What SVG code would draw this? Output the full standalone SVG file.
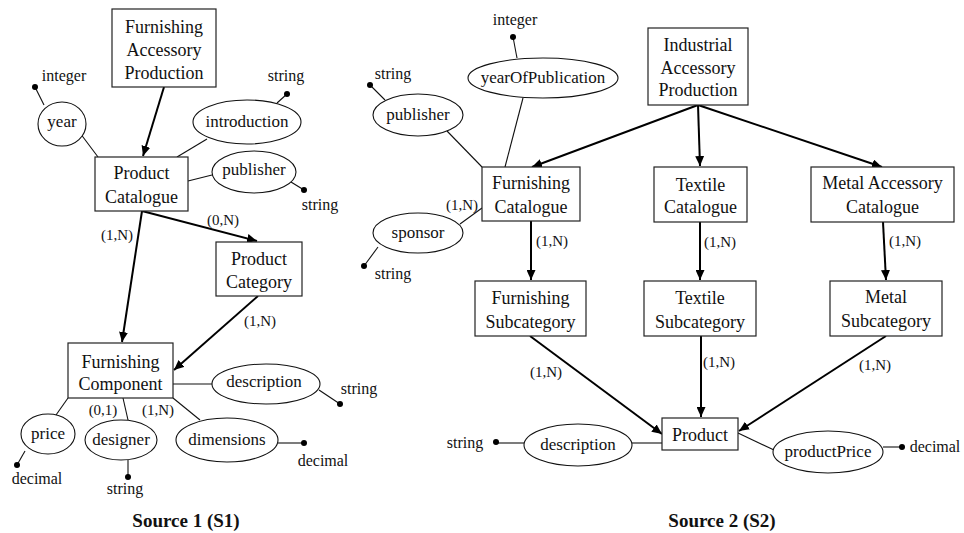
<svg xmlns="http://www.w3.org/2000/svg" width="964" height="533" viewBox="0 0 964 533">
<style>
text{font-family:"Liberation Serif","Times New Roman",serif;fill:#111}
.ent{font-size:18px;text-anchor:middle}
.att{font-size:17px;text-anchor:middle}
.lbl{font-size:16px;text-anchor:middle}
.card{font-size:15px;text-anchor:middle}
.src{font-size:19px;font-weight:bold;text-anchor:middle}
rect{fill:#fff;stroke:#222;stroke-width:1.2}
ellipse{fill:#fff;stroke:#111;stroke-width:1.1}
.rel{stroke:#000;stroke-width:2;fill:none;marker-end:url(#ah)}
.al{stroke:#111;stroke-width:1.1;fill:none}
.dot{fill:#000}
</style>
<defs>
<marker id="ah" markerUnits="userSpaceOnUse" markerWidth="11" markerHeight="9" refX="10" refY="4.5" orient="auto">
<path d="M0,0 L10,4.5 L0,9 z" fill="#000"/>
</marker>
</defs>

<g id="connectors">
<!-- Source 1 relationships -->
<line class="rel" x1="164" y1="87" x2="143" y2="156"/>
<line class="rel" x1="142" y1="211" x2="257" y2="241"/>
<line class="rel" x1="142" y1="211" x2="122" y2="342"/>
<line class="rel" x1="258" y1="296" x2="174" y2="370"/>
<!-- Source 1 attribute lines -->
<line class="al" x1="35" y1="87" x2="44" y2="105"/>
<line class="al" x1="80" y1="133" x2="98" y2="157"/>
<line class="al" x1="287" y1="94" x2="277" y2="103"/>
<line class="al" x1="207" y1="139" x2="177" y2="157"/>
<line class="al" x1="188" y1="181" x2="212" y2="175"/>
<line class="al" x1="291" y1="182" x2="304" y2="190"/>
<line class="al" x1="173" y1="384" x2="212" y2="384"/>
<line class="al" x1="319" y1="390" x2="340" y2="404"/>
<line class="al" x1="68" y1="398" x2="56" y2="415"/>
<line class="al" x1="25" y1="451" x2="17" y2="465"/>
<line class="al" x1="123" y1="398" x2="128" y2="420"/>
<line class="al" x1="128" y1="460" x2="128" y2="477"/>
<line class="al" x1="173" y1="398" x2="200" y2="420"/>
<line class="al" x1="278" y1="443" x2="304" y2="443"/>
<!-- Source 2 relationships -->
<line class="rel" x1="698" y1="105" x2="532" y2="167"/>
<line class="rel" x1="698" y1="105" x2="700" y2="166"/>
<line class="rel" x1="698" y1="105" x2="882" y2="167"/>
<line class="rel" x1="531" y1="221" x2="531" y2="280"/>
<line class="rel" x1="700" y1="222" x2="700" y2="280"/>
<line class="rel" x1="883" y1="222" x2="886" y2="280"/>
<line class="rel" x1="530" y1="336" x2="662" y2="434"/>
<line class="rel" x1="701" y1="336" x2="701" y2="417"/>
<line class="rel" x1="886" y1="336" x2="739" y2="431"/>
<!-- Source 2 attribute lines -->
<line class="al" x1="370" y1="85" x2="385" y2="100"/>
<line class="al" x1="447" y1="131" x2="482" y2="167"/>
<line class="al" x1="513" y1="37" x2="517" y2="58"/>
<line class="al" x1="523" y1="98" x2="505" y2="167"/>
<line class="al" x1="460" y1="224" x2="482" y2="208"/>
<line class="al" x1="378" y1="247" x2="364" y2="266"/>
<line class="al" x1="496" y1="443" x2="524" y2="443"/>
<line class="al" x1="632" y1="443" x2="662" y2="443"/>
<line class="al" x1="738" y1="433" x2="774" y2="450"/>
<line class="al" x1="883" y1="447" x2="902" y2="447"/>
<!-- dots -->
<circle class="dot" cx="35" cy="87" r="3"/>
<circle class="dot" cx="287" cy="94" r="3"/>
<circle class="dot" cx="304" cy="190" r="3"/>
<circle class="dot" cx="340" cy="404" r="3"/>
<circle class="dot" cx="17" cy="465" r="3"/>
<circle class="dot" cx="128" cy="477" r="3"/>
<circle class="dot" cx="304" cy="443" r="3"/>
<circle class="dot" cx="370" cy="85" r="3"/>
<circle class="dot" cx="513" cy="37" r="3"/>
<circle class="dot" cx="364" cy="266" r="3"/>
<circle class="dot" cx="496" cy="442" r="3"/>
<circle class="dot" cx="902" cy="447" r="3"/>
<!-- cardinalities -->
<text class="card" x="223" y="225">(0,N)</text>
<text class="card" x="117" y="240">(1,N)</text>
<text class="card" x="260" y="326">(1,N)</text>
<text class="card" x="103" y="415">(0,1)</text>
<text class="card" x="158" y="415">(1,N)</text>
<text class="card" x="462" y="210">(1,N)</text>
<text class="card" x="552" y="246">(1,N)</text>
<text class="card" x="720" y="247">(1,N)</text>
<text class="card" x="905" y="246">(1,N)</text>
<text class="card" x="546" y="377">(1,N)</text>
<text class="card" x="719" y="367">(1,N)</text>
<text class="card" x="875" y="370">(1,N)</text>
<!-- type labels -->
<text class="lbl" x="64" y="81">integer</text>
<text class="lbl" x="286" y="81">string</text>
<text class="lbl" x="320" y="210">string</text>
<text class="lbl" x="359" y="394">string</text>
<text class="lbl" x="37" y="484">decimal</text>
<text class="lbl" x="125" y="494">string</text>
<text class="lbl" x="323" y="466">decimal</text>
<text class="lbl" x="393" y="79">string</text>
<text class="lbl" x="515" y="25">integer</text>
<text class="lbl" x="393" y="279">string</text>
<text class="lbl" x="465" y="448">string</text>
<text class="lbl" x="935" y="452">decimal</text>
</g>

<!-- Source 1 nodes -->
<g id="furnishing-accessory-production">
<rect x="112" y="9" width="104" height="78"/>
<text class="ent" x="164" y="33">Furnishing</text>
<text class="ent" x="164" y="56">Accessory</text>
<text class="ent" x="164" y="79">Production</text>
</g>
<g id="product-catalogue">
<rect x="95" y="157" width="93" height="54"/>
<text class="ent" x="141.5" y="179">Product</text>
<text class="ent" x="141.5" y="203">Catalogue</text>
</g>
<g id="product-category">
<rect x="216" y="242" width="86" height="54"/>
<text class="ent" x="259" y="265">Product</text>
<text class="ent" x="259" y="288">Category</text>
</g>
<g id="furnishing-component">
<rect x="68" y="343" width="105" height="55"/>
<text class="ent" x="120.5" y="368">Furnishing</text>
<text class="ent" x="120.5" y="390">Component</text>
</g>
<g id="s1-year">
<ellipse cx="62" cy="124" rx="24" ry="22"/>
<text class="att" x="62" y="127">year</text>
</g>
<g id="s1-introduction">
<ellipse cx="247" cy="122" rx="54" ry="22"/>
<text class="att" x="247" y="127">introduction</text>
</g>
<g id="s1-publisher">
<ellipse cx="254" cy="172" rx="42" ry="21"/>
<text class="att" x="254" y="175">publisher</text>
</g>
<g id="s1-description">
<ellipse cx="266" cy="384" rx="54" ry="20"/>
<text class="att" x="264" y="387">description</text>
</g>
<g id="s1-price">
<ellipse cx="48" cy="434" rx="27" ry="20"/>
<text class="att" x="48" y="439">price</text>
</g>
<g id="s1-designer">
<ellipse cx="121" cy="440" rx="36" ry="20"/>
<text class="att" x="121" y="445">designer</text>
</g>
<g id="s1-dimensions">
<ellipse cx="227" cy="440" rx="51" ry="22"/>
<text class="att" x="227" y="445">dimensions</text>
</g>

<!-- Source 2 nodes -->
<g id="industrial-accessory-production">
<rect x="648" y="28" width="100" height="77"/>
<text class="ent" x="698" y="51">Industrial</text>
<text class="ent" x="698" y="74">Accessory</text>
<text class="ent" x="698" y="96">Production</text>
</g>
<g id="furnishing-catalogue">
<rect x="482" y="167" width="98" height="54"/>
<text class="ent" x="531" y="189">Furnishing</text>
<text class="ent" x="531" y="213">Catalogue</text>
</g>
<g id="textile-catalogue">
<rect x="654" y="167" width="93" height="55"/>
<text class="ent" x="700.5" y="191">Textile</text>
<text class="ent" x="700.5" y="213">Catalogue</text>
</g>
<g id="metal-accessory-catalogue">
<rect x="811" y="167" width="143" height="55"/>
<text class="ent" x="882.5" y="189">Metal Accessory</text>
<text class="ent" x="882.5" y="213">Catalogue</text>
</g>
<g id="furnishing-subcategory">
<rect x="475" y="281" width="111" height="55"/>
<text class="ent" x="530.5" y="304">Furnishing</text>
<text class="ent" x="530.5" y="328">Subcategory</text>
</g>
<g id="textile-subcategory">
<rect x="644" y="281" width="112" height="55"/>
<text class="ent" x="700" y="304">Textile</text>
<text class="ent" x="700" y="328">Subcategory</text>
</g>
<g id="metal-subcategory">
<rect x="830" y="281" width="112" height="55"/>
<text class="ent" x="886" y="303">Metal</text>
<text class="ent" x="886" y="327">Subcategory</text>
</g>
<g id="product">
<rect x="662" y="418" width="76" height="32"/>
<text class="ent" x="700" y="441">Product</text>
</g>
<g id="s2-publisher">
<ellipse cx="418" cy="115" rx="45" ry="21"/>
<text class="att" x="418" y="120">publisher</text>
</g>
<g id="s2-yearOfPublication">
<ellipse cx="543" cy="78" rx="75" ry="20"/>
<text class="att" x="543" y="83">yearOfPublication</text>
</g>
<g id="s2-sponsor">
<ellipse cx="418" cy="233" rx="45" ry="20"/>
<text class="att" x="418" y="238">sponsor</text>
</g>
<g id="s2-description">
<ellipse cx="578" cy="445" rx="54" ry="21"/>
<text class="att" x="578" y="450">description</text>
</g>
<g id="s2-productPrice">
<ellipse cx="828" cy="452" rx="55" ry="21"/>
<text class="att" x="828" y="457">productPrice</text>
</g>

<g id="captions">
<text class="src" x="186" y="527">Source 1 (S1)</text>
<text class="src" x="722" y="527">Source 2 (S2)</text>
</g>
</svg>
